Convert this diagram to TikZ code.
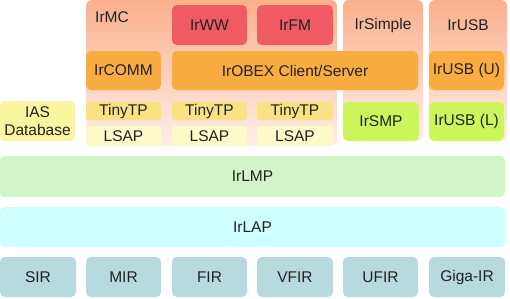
\documentclass[tikz,border=0pt]{standalone}
\usepackage{fontspec}
\setmainfont{Liberation Sans}
\definecolor{txt}{HTML}{222222}
\definecolor{bgtop}{HTML}{FBB08C}
\definecolor{bgbot}{HTML}{FDEFEA}
\definecolor{redbox}{HTML}{F05A62}
\definecolor{orangebox}{HTML}{F9AD40}
\definecolor{tinybox}{HTML}{FAE182}
\definecolor{lsapbox}{HTML}{FCFAC6}
\definecolor{iasbox}{HTML}{FAF6A0}
\definecolor{limebox}{HTML}{CDF55C}
\definecolor{lmpbox}{HTML}{D1F5C8}
\definecolor{lapbox}{HTML}{CCFFFE}
\definecolor{phybox}{HTML}{B7DADF}
\tikzset{
  box/.style={rounded corners=5pt, draw=none, inner sep=0pt, text=txt,
    font=\fontsize{15.5}{18}\selectfont, align=center},
  lbl/.style={inner sep=0pt, text=txt, font=\fontsize{15.5}{18}\selectfont},
  colbg/.style={rounded corners=6pt, top color=bgtop, bottom color=bgbot, draw=none}
}
\begin{document}
\begin{tikzpicture}[x=1pt,y=-1pt]
\useasboundingbox (0,0) rectangle (510,298);
% column backgrounds
\shade[colbg] (86,0) rectangle (337,146);
\shade[colbg] (343,0) rectangle (423,141);
\shade[colbg] (429,0) rectangle (507,141);
\node[lbl] (irmc) at (112,17) {IrMC};
\node[lbl] (irsimple) at (383,25) {IrSimple};
\node[lbl] (irusb) at (468,25) {IrUSB};
% top row
\node[box, fill=redbox, minimum width=75, minimum height=40] (irww) at (209.5,25) {IrWW};
\node[box, fill=redbox, minimum width=76, minimum height=40] (irfm) at (295,25) {IrFM};
% second row
\node[box, fill=orangebox, minimum width=75, minimum height=39] (ircomm) at (123.5,70.5) {IrCOMM};
\node[box, fill=orangebox, minimum width=246, minimum height=39] (irobex) at (295,70.5) {IrOBEX Client/Server};
\node[box, fill=orangebox, minimum width=75, minimum height=39] (irusbu) at (466.5,70.5) {IrUSB (U)};
% TinyTP / LSAP
\node[box, rounded corners=3pt, fill=tinybox, minimum width=75, minimum height=18] (tp1) at (123.5,111) {TinyTP};
\node[box, rounded corners=3pt, fill=tinybox, minimum width=75, minimum height=18] (tp2) at (209.5,111) {TinyTP};
\node[box, rounded corners=3pt, fill=tinybox, minimum width=76, minimum height=18] (tp3) at (295,111) {TinyTP};
\node[box, rounded corners=3pt, fill=lsapbox, minimum width=75, minimum height=20] (ls1) at (123.5,136) {LSAP};
\node[box, rounded corners=3pt, fill=lsapbox, minimum width=75, minimum height=20] (ls2) at (209.5,136) {LSAP};
\node[box, rounded corners=3pt, fill=lsapbox, minimum width=76, minimum height=20] (ls3) at (295,136) {LSAP};
\node[box, fill=iasbox, minimum width=75, minimum height=40] (ias) at (37.5,121) {IAS\\Database};
\node[box, fill=limebox, minimum width=76, minimum height=39] (irsmp) at (381,121.5) {IrSMP};
\node[box, fill=limebox, minimum width=75, minimum height=39] (irusbl) at (466.5,121.5) {IrUSB (L)};
% wide layers
\node[box, fill=lmpbox, minimum width=505, minimum height=41] (irlmp) at (252.5,176.5) {IrLMP};
\node[box, fill=lapbox, minimum width=505, minimum height=40] (irlap) at (252.5,227) {IrLAP};
% physical layer
\node[box, fill=phybox, minimum width=76, minimum height=40] (sir) at (38,277) {SIR};
\node[box, fill=phybox, minimum width=75, minimum height=40] (mir) at (123.5,277) {MIR};
\node[box, fill=phybox, minimum width=75, minimum height=40] (fir) at (209.5,277) {FIR};
\node[box, fill=phybox, minimum width=76, minimum height=40] (vfir) at (295,277) {VFIR};
\node[box, fill=phybox, minimum width=75, minimum height=40] (ufir) at (380.5,277) {UFIR};
\node[box, fill=phybox, minimum width=76, minimum height=40] (giga) at (467,277) {Giga-IR};
\end{tikzpicture}
\end{document}
